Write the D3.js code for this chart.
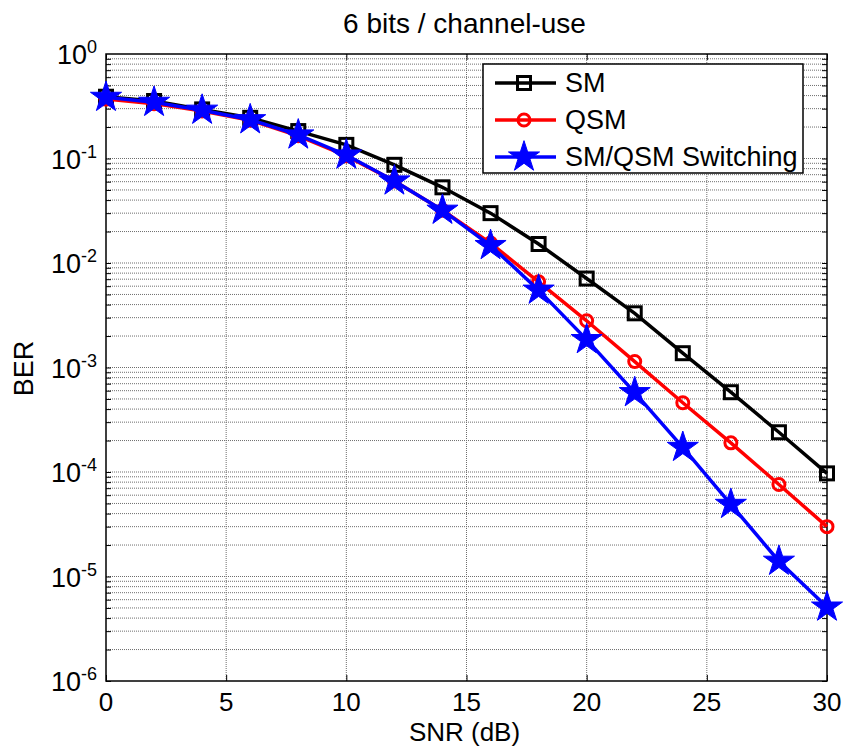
<!DOCTYPE html>
<html>
<head>
<meta charset="utf-8">
<script src="https://cdn.jsdelivr.net/npm/d3@7"></script>
<style>
  body { margin: 0; background: #fff; }
  text { font-family: "Liberation Sans", Arial, sans-serif; }
</style>
</head>
<body>
<div id="viz"></div>
<script>
// data
var snr = [0, 2, 4, 6, 8, 10, 12, 14, 16, 18, 20, 22, 24, 26, 28, 30]
var berSM = [0.39, 0.355, 0.295, 0.245, 0.183, 0.135, 0.087, 0.053, 0.030, 0.0152, 0.0071, 0.0033, 0.00137, 5.8e-4, 2.4e-4, 9.7e-5]
var berQSM = [0.37, 0.335, 0.285, 0.232, 0.165, 0.106, 0.061, 0.032, 0.0155, 0.0066, 0.0028, 0.00114, 4.6e-4, 1.9e-4, 7.6e-5, 3.0e-5]
var berSwitch = [0.385, 0.345, 0.29, 0.235, 0.168, 0.108, 0.061, 0.032, 0.0147, 0.0055, 0.00185, 5.75e-4, 1.72e-4, 4.9e-5, 1.4e-5, 5.1e-6]
var xTicks = [0, 5, 10, 15, 20, 25, 30]
var yExps = [0, -1, -2, -3, -4, -5, -6]
var seriesNames = ["SM", "QSM", "SM/QSM Switching"]

var width = 847, height = 752
var margin = { top: 54, right: 20, bottom: 71, left: 106 }
var w = width - margin.left - margin.right,
  h = height - margin.top - margin.bottom

var svg = d3.select("#viz").append("svg")
  .attr("width", width)
  .attr("height", height)

var g = svg.append("g")
  .attr("transform", "translate(" + margin.left + "," + margin.top + ")")

var x = d3.scaleLinear().domain([0, 30]).range([0, w])
var y = d3.scaleLog().domain([1e-6, 1]).range([h, 0])

// minor values for the log grid
var minor = []
yExps.slice(0, -1).forEach(function (e) {
  for (var k = 1; k < 10; k++) minor.push(k * Math.pow(10, e - 1))
})

// grid
var grid = g.append("g").attr("class", "grid")
grid.selectAll("line.gx").data(xTicks.slice(1, -1)).enter().append("line")
  .attr("x1", d => x(d)).attr("x2", d => x(d))
  .attr("y1", 0).attr("y2", h)
  .style("stroke", "#6e6e6e").style("stroke-width", 1).style("stroke-dasharray", "1,1")
grid.selectAll("line.gy").data(minor.filter(d => d > 1e-6)).enter().append("line")
  .attr("x1", 0).attr("x2", w)
  .attr("y1", d => y(d)).attr("y2", d => y(d))
  .style("stroke", "#6e6e6e").style("stroke-width", 1).style("stroke-dasharray", "1,1")

// axes: ticks inward on all sides
var xAxisB = d3.axisBottom(x).tickValues(xTicks).tickSizeInner(-6).tickSizeOuter(0).tickFormat("")
var xAxisT = d3.axisTop(x).tickValues(xTicks).tickSizeInner(-6).tickSizeOuter(0).tickFormat("")
var yAxisL = d3.axisLeft(y).tickValues(minor).tickSizeInner(-5).tickSizeOuter(0).tickFormat("")
var yAxisR = d3.axisRight(y).tickValues(minor).tickSizeInner(-5).tickSizeOuter(0).tickFormat("")

g.append("g").attr("transform", "translate(0," + h + ")").call(xAxisB)
g.append("g").call(xAxisT)
g.append("g").call(yAxisL)
g.append("g").attr("transform", "translate(" + w + ",0)").call(yAxisR)
g.selectAll(".domain").remove()
g.selectAll(".tick line").style("stroke", "#000").style("stroke-width", 1)

g.append("rect")
  .attr("width", w).attr("height", h)
  .style("fill", "none").style("stroke", "#000").style("stroke-width", 1.5)

// tick labels
g.selectAll("text.xl").data(xTicks).enter().append("text")
  .attr("x", d => x(d)).attr("y", h + 30)
  .attr("text-anchor", "middle")
  .style("font-size", "26px")
  .text(d => d)

var yl = g.selectAll("text.yl").data(yExps).enter().append("text")
  .attr("x", -9).attr("y", d => y(Math.pow(10, d)) + 10)
  .attr("text-anchor", "end")
  .style("font-size", "27px")
yl.append("tspan").text("10")
yl.append("tspan").attr("dy", -11).style("font-size", "18px").text(d => d)

// labels
svg.append("text").attr("x", margin.left + w / 2 - 2).attr("y", 33)
  .attr("text-anchor", "middle").style("font-size", "28px").text("6 bits / channel-use")
svg.append("text").attr("x", margin.left + w / 2 - 2).attr("y", 741)
  .attr("text-anchor", "middle").style("font-size", "26px").text("SNR (dB)")
svg.append("text").attr("transform", "translate(33," + (margin.top + h / 2 + 1) + ") rotate(-90)")
  .attr("text-anchor", "middle").style("font-size", "27px").text("BER")

// series
var series = [
  { name: seriesNames[0], values: berSM, color: "#000", marker: "square" },
  { name: seriesNames[1], values: berQSM, color: "#ff0000", marker: "circle" },
  { name: seriesNames[2], values: berSwitch, color: "#0000ff", marker: "star" }
]

var line = d3.line().x(d => x(d[0])).y(d => y(d[1]))

function drawMarker(sel, s) {
  if (s.marker == "square") {
    sel.append("rect").attr("x", -6.5).attr("y", -6.5).attr("width", 13).attr("height", 13)
      .style("fill", "none").style("stroke", s.color).style("stroke-width", 3)
  } else if (s.marker == "circle") {
    sel.append("circle").attr("r", 6)
      .style("fill", "none").style("stroke", s.color).style("stroke-width", 3)
  } else {
    sel.append("path").attr("d", d3.symbol().type(d3.symbolStar).size(300))
      .style("fill", s.color).style("stroke", s.color).style("stroke-width", 1)
  }
}

series.forEach(function (s) {
  var pts = snr.map((d, i) => [d, s.values[i]])
  g.append("path").datum(pts).attr("d", line)
    .style("fill", "none").style("stroke", s.color).style("stroke-width", 3.5)
  g.selectAll(null).data(pts).enter().append("g")
    .attr("transform", d => "translate(" + x(d[0]) + "," + y(d[1]) + ")")
    .each(function () { drawMarker(d3.select(this), s) })
})

// legend
var legend = svg.append("g").attr("transform", "translate(483,64)")
legend.append("rect").attr("width", 320).attr("height", 109)
  .style("fill", "#fff").style("stroke", "#000").style("stroke-width", 1.5)
series.forEach(function (s, i) {
  var row = legend.append("g").attr("transform", "translate(0," + (19 + i * 37) + ")")
  row.append("line").attr("x1", 12).attr("x2", 73)
    .style("stroke", s.color).style("stroke-width", 3.5)
  var m = row.append("g").attr("transform", "translate(41,0)")
  drawMarker(m, s)
  row.append("text").attr("x", 82).attr("y", 9).style("font-size", "27px").text(s.name)
})
</script>
</body>
</html>
